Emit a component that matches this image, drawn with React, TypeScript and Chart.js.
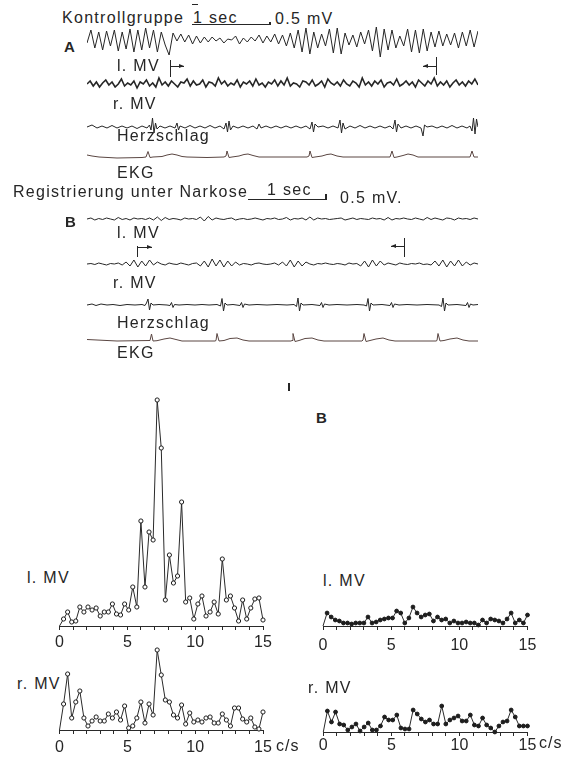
import React, { useEffect, useRef } from 'react';
import { Chart, registerables } from 'chart.js';

Chart.register(...registerables);

// ---------- Top recordings (time in samples, 78 samples = 1 sec; amplitude in arbitrary units) ----------
const TRACE_SPAN = 391;

// A – Kontrollgruppe
const aLeftMV = [-1, 12, -6, 10, -8, 11, -4, 12, -9, 10, -7, 13, -10, 12, -8, 14, -6, 12, -10, 10, -3, -13, 9, 1, 8, 0, 7, -2, 6, -1, 5,
  0, 5, 1, 4, -1, 3, 2, 6, -2, 4, 0, 5, 1, 7, -1, 6, 0, 8, -2, 7, -4, 9,
  -6, 12, -10, 14, -12, 10, -6, 8, -4, 13, -11, 14, -12, 9, -3, 7, -5, 10, -2, 12, -9, 15, -15, 13, -8, 12, -6, 6, -4, 13, -10, 12, -11, 13, -9, 10, -5, 11, -4, 8, -3, 9, -6, 10, -4, 12, -5, 11];
const aRightMV = [0, 3, -2, 2, -3, 1, 4, -1, 2, -3, 0, 5, -2, 1, -1, 3, -4, 2, 0, 4, -2, 1, -3, 6, -1, 2, -2, 3, 0, -3,
  2, 1, 5, -2, 3, -1, 0, 4, -3, 2, 1, -2, 6, 0, 3, -2, 1, -1, 4, -3, 2, 0, 3, -2, 5, -1, 1, -3, 2, 0,
  4, -2, 3, -1, 6, -2, 1, 0, -3, 3, 2, -1, 4, -2, 0, 3, -3, 5, 1, -1, 2, -2, 4, 0, -2, 3, 1, -3, 6, -1,
  2, -2, 3, 0, 4, -3, 1, 2, -1, 5, -2, 0, 3, -1, 2, -3, 4, 1, -2, 3, 0, 6, -2, 2, -1, 3, -3, 1, 4, -1, 2, -2, 3, 0, 5, -1];
const aHeart: [number, number][] = [[0, 0], [5, 2], [10, -1], [15, 1], [20, -1], [25, 1.5], [30, -1], [35, 1], [40, -1], [45, 1], [50, -1.5], [55, 1], [60, -1], [62.5, 2], [64, -3], [65.5, 9], [67, -6], [68.5, 4], [70, -2], [73, 1], [78, -1], [83, 1], [88, -1], [90, 4], [91.5, -3], [93, 1], [98, -1], [103, 1.5], [108, -1], [113, 1], [118, -1], [123, 1.5], [128, -1], [133, 1], [137, -2], [139, 4], [140.5, -5], [142, 6], [143.5, -3], [146, 1], [151, -1], [156, 1], [161, -1], [166, 1], [170, -2], [172, 3], [174, -1], [179, 1], [184, -1], [189, 1], [194, -1], [199, 1], [204, -1], [209, 1], [214, -1], [219, 1], [223, -2], [225, 5], [226.5, -5], [228, 3], [231, 0], [236, 1], [241, -1], [246, 1], [251, -1], [253, 7], [254.5, -6], [256, 4], [258, -2], [263, 1], [268, -1], [273, 1.5], [278, -1], [283, 1], [288, -1], [293, 1], [298, -1], [303, 1], [306, -2], [308, 7], [309.5, -5], [311, 3], [314, -1], [319, 1], [324, -1], [329, 1], [334, -1], [336, -9], [337.5, 2], [340, 0], [345, 1], [350, -1], [355, 1], [360, -1], [365, 1.5], [370, -1], [375, 1], [380, -1], [383, 1], [385, -4], [386.5, 9], [388, -7], [389.5, 8], [391, 0]];
const aEKG: [number, number][] = [[0, 2], [5, 1], [12, 0], [30, -1], [55, -0.5], [59, 0], [61, 5.5], [63, -0.5], [66, 0], [75, 0.5], [80, 2], [85, 3], [90, 2], [95, 0.5], [100, 0], [120, -0.5], [137, 0], [139, 1], [140, 6], [142, -0.5], [145, 0], [152, 1], [157, 2.5], [161, 3], [166, 1.5], [172, 0], [220, 0], [222, 1], [223, 6], [225, -0.5], [228, 0], [235, 1], [240, 2.5], [244, 3], [250, 1], [256, 0], [303, 0], [305, 6], [307, -0.5], [310, 0], [316, 1.5], [321, 3], [326, 2], [331, 0], [383, 0], [385, 6], [387, 0], [391, 0]];

// B – Registrierung unter Narkose
const bLeftMV = [0, 1, -1, 0.5, -0.5, 1, 0, -1, 1.5, -0.5, 0.5, -1, 1, 0, 0.5, -0.5, 1, -1, 2, -1.5, 1.5, -0.5, 0.5, 0, -1, 1, 0, 0.5, -0.5, 2, -2, 2.5, -1, 1, 0, -0.5, 0.5, 1, -1, 0, 0.5, -0.5, 0, 1, 0, -1, 0.5, 0, 1, -0.5, 0, 1.5, -1, 0.5, 0, 1, -1, 2, -1, 1, 0, 0.5, -0.5, 0, 0.5, 1, -1, 0, 1, -0.5, 0.5, 0, -0.5, 1, 0, 0.5, -1, 1.5, -1, 0.5, 0, 1, 0, -0.5, 1, 0, -1, 1.5, -0.5, 1, 0, -1, 1, 0.5, -1, 1, 0, 0.5, -0.5, 1, 0];
const bRightMV = [0, 0.5, -0.5, 1, 0, -1, 0.5, 0, 1,
  -1, 2, -2, 4, -3, 3, -2, 4, -1, 2,
  0, -1, 1, 0, -0.5, 1, 0, -1, 0.5, 1,
  -2, 3, -3, 5, -2, 4, -3, 3, -2, 2, -1,
  0.5, 0, -1, 0.5, 1, 0, -0.5, 0, 1, -1,
  2, -2, 4, -3, 3, -2, 2, 0,
  -1, 0.5, 0, 1, 0, -0.5, 0.5, 0, -1, 1, 0, 0.5,
  -2, 3, -3, 4, -2, 3, -1, 1,
  0, -1, 1, 0, -0.5, 0.5, 0, 1, -0.5, 0,
  -1, 3, -2, 4, -3, 3, -2, 4, -2, 2, -1, 1, 0];
const bHeart: [number, number][] = [[0, 0], [5, 1], [9, -0.5], [14, 1], [20, 0], [26, 0.5], [33, -0.5], [40, 0.5], [48, 0], [55, 0.5], [58, -0.5], [59.5, 2], [61, 6], [62.5, -5], [64, 2], [66, 0], [72, 0.5], [80, 0], [83, -0.5], [84.5, 2.5], [86, -2.5], [87.5, 0.5], [92, 0], [100, 0.5], [108, 0], [115, 0.5], [122, 0], [130, 0.5], [133.5, -1], [135, 6.5], [136.5, -6], [138, 2], [140, 0], [146, 0.5], [153, -0.5], [154.5, 2.5], [156, -2.5], [157.5, 1], [162, 0], [170, 0.5], [180, 0], [190, 0.5], [200, 0], [207, 0.5], [209.5, -1.5], [211, 7], [212.5, -6], [214, 2], [216, 0], [225, 0.5], [233, -0.5], [234.5, 2.5], [236, -2.5], [237.5, 1], [242, 0], [250, 0.5], [260, 0], [270, 0.5], [277, 0], [279.5, -1], [281, 6.5], [282.5, -6], [284, 2], [286, 0], [295, 0.5], [303, -0.5], [304.5, 2.5], [306, -2.5], [307.5, 1], [312, 0], [320, 0.5], [330, 0], [340, 0.5], [352, 0], [354.5, -1.5], [356, 7], [357.5, -6], [359, 2], [361, 0], [370, 0.5], [379, -0.5], [380.5, 2.5], [382, -2.5], [383.5, 1], [386, 0], [391, 0.5]];
const bEKG: [number, number][] = [[0, 1.5], [10, 1], [30, 0], [63, 0.5], [64.5, 7], [66, 0], [70, 0.3], [77, 2], [83, 3], [89, 1.5], [95, 0], [128, 0], [129, 0.5], [130, 7.5], [132, 0], [137, 0.5], [143, 2.5], [150, 3], [156, 1], [162, 0], [204, 0], [205, 0.5], [206, 7.5], [208, -0.5], [212, 0.5], [218, 2.5], [225, 3], [231, 1], [237, 0], [275, 0], [276, 1], [277, 7.5], [279, -0.5], [283, 0.5], [289, 2], [296, 3], [302, 1], [308, 0], [349, 0], [350, 0.5], [351, 7.5], [353, 0], [357, 0.5], [363, 2], [370, 3], [376, 1], [382, 0], [391, 0]];

// ---------- Spectra (c/s) ----------
const FREQS = [0, 0.3, 0.6, 0.9, 1.2, 1.5, 1.8, 2.1, 2.4, 2.7, 3.0, 3.3, 3.6, 3.9, 4.2, 4.5, 4.8, 5.1, 5.4, 5.7, 6.0, 6.3, 6.6, 6.9, 7.2, 7.5, 7.8, 8.1, 8.4, 8.7, 9.0, 9.3, 9.6, 9.9, 10.2, 10.5, 10.8, 11.1, 11.4, 11.7, 12.0, 12.3, 12.6, 12.9, 13.2, 13.5, 13.8, 14.1, 14.4, 14.7, 15.0];
const specA_left = [0, 7, 14, 4, 5, 19, 14, 19, 16, 18, 10, 14, 14, 22, 12, 11, 22, 16, 39, 19, 105, 39, 94, 86, 226, 178, 26, 71, 43, 50, 124, 24, 28, 7, 22, 30, 10, 14, 24, 12, 67, 26, 30, 18, 5, 26, 7, 18, 27, 28, 6];
const specA_right = [0, 26, 56, 12, 28, 39, 12, 4, 9, 13, 9, 9, 16, 12, 18, 10, 24, 2, 4, 12, 28, 7, 26, 15, 80, 55, 30, 28, 15, 12, 25, 6, 17, 8, 10, 8, 12, 13, 7, 7, 16, 10, 4, 22, 22, 11, 8, 12, 3, 1, 18];
const specB_left = [0, 13, 9, 6, 5, 3, 3, 2, 3, 3, 3, 9, 3, 4, 6, 7, 8, 8, 15, 13, 3, 8, 19, 13, 9, 11, 12, 5, 9, 6, 7, 3, 5, 3, 3, 4, 3, 3, 1, 6, 3, 7, 6, 5, 3, 7, 13, 3, 6, 3, 11];
const specB_right = [0, 21, 10, 20, 8, 7, 2, 5, 8, 1, 5, 9, 2, 2, 6, 15, 12, 12, 17, 4, 3, 3, 22, 18, 13, 10, 12, 8, 8, 26, 8, 12, 14, 16, 11, 11, 17, 7, 6, 14, 7, 4, 0, 6, 10, 11, 22, 15, 6, 6, 6];
const FREQ_TICK_LABELS = [0, 5, 10, 15];

const FONT = '"Liberation Sans", Arial, Helvetica, sans-serif';
const INK = '#262626';

function uniform(vals: number[]) {
  return vals.map((v, i) => ({ x: (i * TRACE_SPAN) / (vals.length - 1), y: v }));
}
function pairs(p: [number, number][]) {
  return p.map(([x, y]) => ({ x, y }));
}

function ChartCanvas({ left, top, width, height, config }: any) {
  const ref = useRef<HTMLCanvasElement>(null);
  useEffect(() => {
    const chart = new Chart(ref.current as HTMLCanvasElement, config);
    return () => chart.destroy();
  }, []);
  return (
    <canvas
      ref={ref}
      width={width}
      height={height}
      style={{ position: 'absolute', left, top, width, height, display: 'block' }}
    />
  );
}

function Trace({ points, center, yMin, yMax, color = INK, lw = 1 }: any) {
  const config: any = {
    type: 'line',
    data: { datasets: [{ data: points, borderColor: color, borderWidth: lw, pointRadius: 0, tension: 0, fill: false }] },
    options: {
      responsive: false,
      animation: false,
      devicePixelRatio: 1,
      events: [],
      layout: { padding: 0 },
      plugins: { legend: { display: false }, tooltip: { enabled: false } },
      scales: {
        x: { type: 'linear', display: false, min: 0, max: TRACE_SPAN },
        y: { type: 'linear', display: false, min: yMin, max: yMax },
      },
    },
  };
  return <ChartCanvas left={87} top={center - yMax} width={TRACE_SPAN} height={yMax - yMin} config={config} />;
}

function Spectrum({ values, left, top, width, height, padL, padR, padT, yMax, filled, tickPad }: any) {
  const axisH = height - padT - yMax;
  const config: any = {
    type: 'line',
    data: {
      datasets: [
        {
          data: FREQS.map((f, i) => ({ x: f, y: values[i] })),
          borderColor: '#2a2a2a',
          borderWidth: 1,
          tension: 0,
          fill: false,
          clip: false,
          pointRadius: FREQS.map((_, i) => (i === 0 ? 0 : filled ? 1.9 : 2.1)),
          pointBackgroundColor: filled ? '#1e1e1e' : '#ffffff',
          pointBorderColor: '#1e1e1e',
          pointBorderWidth: 1,
        },
      ],
    },
    options: {
      responsive: false,
      animation: false,
      devicePixelRatio: 1,
      events: [],
      layout: { padding: { left: padL, right: padR, top: padT, bottom: 0 } },
      plugins: { legend: { display: false }, tooltip: { enabled: false } },
      scales: {
        x: {
          type: 'linear',
          min: 0,
          max: 15,
          afterFit: (s: any) => {
            s.height = axisH;
          },
          border: { display: true, color: '#2a2a2a', width: 1 },
          grid: { display: true, drawOnChartArea: false, drawTicks: true, tickLength: 4, color: '#2a2a2a', lineWidth: 1 },
          ticks: {
            stepSize: 1,
            autoSkip: false,
            maxRotation: 0,
            padding: tickPad,
            color: INK,
            font: { family: FONT, size: 16 },
            callback: (v: any) => (FREQ_TICK_LABELS.includes(Number(v)) ? String(v) : ''),
          },
        },
        y: { type: 'linear', display: false, min: 0, max: yMax },
      },
    },
  };
  return <ChartCanvas left={left} top={top} width={width} height={height} config={config} />;
}

function Txt({ x, cy, text, size = 16, bold = false, ls = 1.3 }: any) {
  return (
    <div
      style={{
        position: 'absolute',
        left: x,
        top: cy - size * 0.49,
        fontFamily: FONT,
        fontSize: size,
        lineHeight: `${size}px`,
        fontWeight: bold ? 700 : 400,
        letterSpacing: ls,
        whiteSpace: 'nowrap',
        color: INK,
      }}
    >
      {text}
    </div>
  );
}

function HLine({ x1, x2, y, w = 1 }: any) {
  return <div style={{ position: 'absolute', left: x1, top: y - w / 2, width: x2 - x1, height: w, background: INK }} />;
}
function VLine({ x, y1, y2, w = 1 }: any) {
  return <div style={{ position: 'absolute', left: x - w / 2, top: y1, width: w, height: y2 - y1, background: INK }} />;
}
function Marker({ x, y1, y2, ay, dir, len }: any) {
  const tipX = dir > 0 ? x + len : x - len;
  return (
    <>
      <VLine x={x} y1={y1} y2={y2} w={1.2} />
      <HLine x1={Math.min(x, tipX)} x2={Math.max(x, tipX)} y={ay} w={1} />
      <div
        style={{
          position: 'absolute',
          left: dir > 0 ? tipX - 5 : tipX,
          top: ay - 2.5,
          width: 0,
          height: 0,
          borderTop: '2.5px solid transparent',
          borderBottom: '2.5px solid transparent',
          borderLeft: dir > 0 ? `5px solid ${INK}` : undefined,
          borderRight: dir < 0 ? `5px solid ${INK}` : undefined,
        }}
      />
    </>
  );
}

export default function App() {
  return (
    <div style={{ position: 'absolute', left: 0, top: 0, width: 566, height: 760, overflow: 'hidden', background: '#fff' }}>
      {/* ---- Part A ---- */}
      <Txt x={62} cy={17.5} text="Kontrollgruppe" />
      <HLine x1={192} x2={198} y={4.5} w={1.3} />
      <Txt x={193} cy={17.5} text="1 sec" />
      <HLine x1={192} x2={270} y={24} w={1} />
      <VLine x={270} y1={22} y2={25} w={1.4} />
      <Txt x={275} cy={18.5} text="0.5 mV" />
      <Txt x={64} cy={46.5} text="A" bold size={15} ls={0} />

      <Trace points={uniform(aLeftMV)} center={42} yMin={-18} yMax={18} lw={1} />
      <Txt x={117} cy={66} text="l. MV" />
      <Marker x={170.5} y1={60} y2={77} ay={66.5} dir={1} len={13} />
      <Marker x={436.5} y1={57} y2={75} ay={66.5} dir={-1} len={14} />

      <Trace points={uniform(aRightMV)} center={84} yMin={-8} yMax={8} lw={1.6} />
      <Txt x={113} cy={104} text="r. MV" />

      <Trace points={pairs(aHeart)} center={127} yMin={-11} yMax={11} lw={1} />
      <Txt x={117} cy={136} text="Herzschlag" />

      <Trace points={pairs(aEKG)} center={157} yMin={-3} yMax={8} lw={1} color="#5a4642" />
      <Txt x={117} cy={172.5} text="EKG" />

      {/* ---- Part B ---- */}
      <Txt x={13} cy={191.7} text="Registrierung unter Narkose" />
      <Txt x={267} cy={190} text="1 sec" />
      <HLine x1={248} x2={326} y={199.5} w={1} />
      <VLine x={326} y1={194} y2={200} w={1.2} />
      <Txt x={340} cy={197.5} text="0.5 mV." />
      <Txt x={65} cy={221.7} text="B" bold size={15} ls={0} />

      <Trace points={uniform(bLeftMV)} center={219} yMin={-5} yMax={5} lw={1} />
      <Txt x={117} cy={233} text="l. MV" />
      <Marker x={137.5} y1={246} y2={257} ay={247.5} dir={1} len={14} />
      <Marker x={404.5} y1={238} y2={257} ay={246.5} dir={-1} len={14} />

      <Trace points={uniform(bRightMV)} center={264} yMin={-7} yMax={7} lw={1} />
      <Txt x={113} cy={283} text="r. MV" />

      <Trace points={pairs(bHeart)} center={305} yMin={-10} yMax={10} lw={1} />
      <Txt x={117} cy={323} text="Herzschlag" />

      <Trace points={pairs(bEKG)} center={341} yMin={-3} yMax={10} lw={1} color="#5a4642" />
      <Txt x={117} cy={353} text="EKG" />

      {/* ---- Spectra ---- */}
      <VLine x={288.5} y1={383} y2={391} w={2} />
      <Txt x={316} cy={417.5} text="B" bold size={15} ls={0} />

      <Txt x={27} cy={578} text="l. MV" />
      <Spectrum values={specA_left} left={44} top={390} width={235} height={266} padL={15.5} padR={16} padT={6} yMax={230} filled={false} tickPad={3} />

      <Txt x={17} cy={684} text="r. MV" />
      <Spectrum values={specA_right} left={44} top={640} width={235} height={120} padL={15.5} padR={16} padT={5} yMax={85} filled={false} tickPad={4} />
      <Txt x={276} cy={746} text="c/s" ls={1} />

      <Txt x={323} cy={581} text="l. MV" />
      <Spectrum values={specB_left} left={308} top={596} width={235} height={60} padL={15} padR={15.5} padT={5} yMax={25} filled={true} tickPad={6} />

      <Txt x={308} cy={688} text="r. MV" />
      <Spectrum values={specB_right} left={308} top={697} width={235} height={63} padL={15.3} padR={15.5} padT={5} yMax={30} filled={true} tickPad={0} />
      <Txt x={539} cy={743} text="c/s" ls={1} />
    </div>
  );
}
